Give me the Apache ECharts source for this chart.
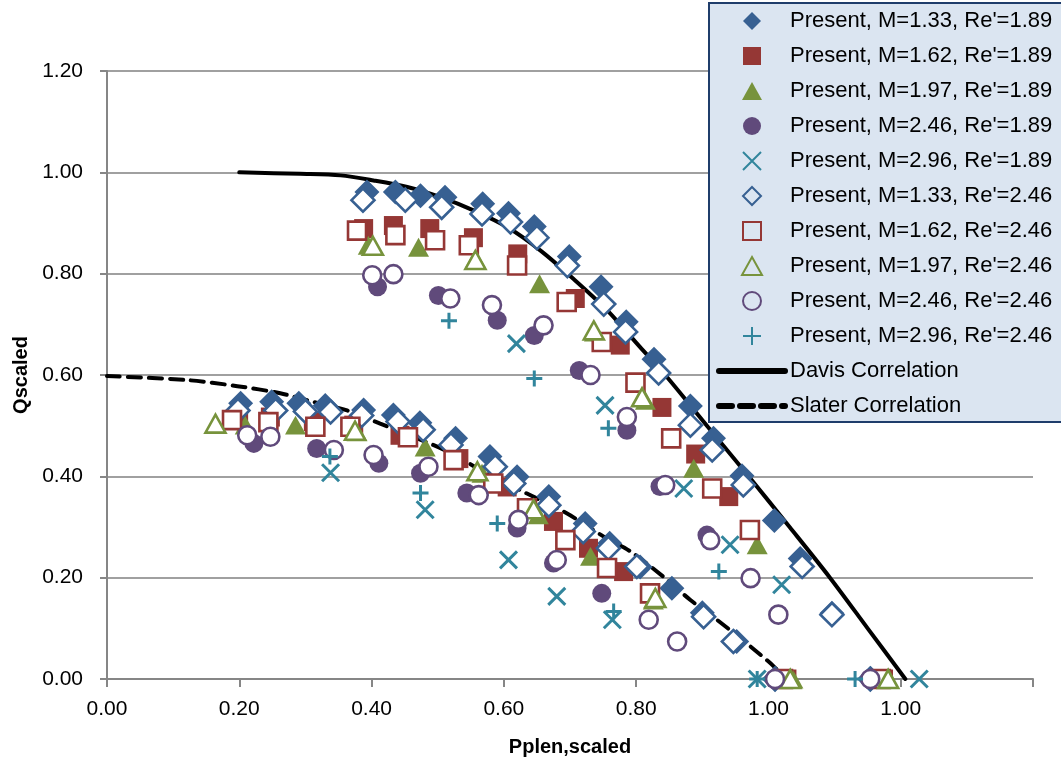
<!DOCTYPE html>
<html>
<head>
<meta charset="utf-8">
<script src="https://cdn.jsdelivr.net/npm/echarts@6/dist/echarts.min.js"></script>
<style>
html,body{margin:0;padding:0;background:#fff;}
#chart{width:1061px;height:767px;}
</style>
</head>
<body>
<div id="chart"></div>
<script>
// ---- data ----
const xTickLabels = ['0.00','0.20','0.40','0.60','0.80','1.00','1.00',''];
const yTickLabels = ['0.00','0.20','0.40','0.60','0.80','1.00','1.20'];

const seriesNames = [
  "Present, M=1.33, Re'=1.89","Present, M=1.62, Re'=1.89","Present, M=1.97, Re'=1.89",
  "Present, M=2.46, Re'=1.89","Present, M=2.96, Re'=1.89","Present, M=1.33, Re'=2.46",
  "Present, M=1.62, Re'=2.46","Present, M=1.97, Re'=2.46","Present, M=2.46, Re'=2.46",
  "Present, M=2.96, Re'=2.46","Davis Correlation","Slater Correlation"
];

const m133_re189 = [
  [0.393,0.961],[0.436,0.961],[0.474,0.954],[0.511,0.951],[0.568,0.938],[0.607,0.919],
  [0.646,0.893],[0.699,0.834],[0.747,0.774],[0.785,0.705],[0.827,0.631],[0.882,0.539],
  [0.917,0.475],[0.960,0.401],[1.009,0.313],[1.048,0.238],[1.096,0.130],[1.154,0.000],
  [0.202,0.544],[0.249,0.547],[0.290,0.544],[0.330,0.540],[0.388,0.531],[0.433,0.521],
  [0.473,0.506],[0.527,0.475],[0.579,0.439],[0.620,0.399],[0.668,0.360],[0.723,0.307],
  [0.760,0.268],[0.806,0.221],[0.854,0.179],[0.900,0.131],[0.952,0.074],[1.010,0.000]
];
const m162_re189 = [
  [0.388,0.889],[0.433,0.895],[0.488,0.889],[0.554,0.871],[0.621,0.839],[0.708,0.751],
  [0.776,0.659],[0.839,0.536],[0.890,0.444],[0.940,0.360],[1.174,0.000],
  [0.199,0.514],[0.247,0.517],[0.312,0.508],[0.373,0.501],[0.443,0.481],[0.532,0.435],
  [0.605,0.379],[0.675,0.311],[0.728,0.258],[0.781,0.212],[1.028,0.000]
];
const m197_re189 = [
  [0.395,0.856],[0.471,0.852],[0.557,0.830],[0.654,0.780],[0.737,0.685],[0.814,0.550],
  [0.887,0.416],[0.983,0.265],[1.181,0.000],
  [0.209,0.501],[0.285,0.501],[0.378,0.488],[0.481,0.458],[0.567,0.406],[0.652,0.324],
  [0.731,0.242],[0.826,0.156],[1.037,0.000]
];
const m246_re189 = [
  [0.409,0.774],[0.501,0.757],[0.590,0.708],[0.646,0.678],[0.714,0.609],[0.786,0.491],
  [0.836,0.380],[0.907,0.284],[1.154,0.000],
  [0.222,0.465],[0.317,0.455],[0.411,0.426],[0.474,0.406],[0.544,0.367],[0.620,0.298],
  [0.675,0.229],[0.748,0.169],[1.010,0.000]
];
const m296_re189 = [
  [0.619,0.662],[0.753,0.540],[0.872,0.376],[0.942,0.265],[1.020,0.186],[1.228,0.000],
  [0.338,0.407],[0.481,0.334],[0.607,0.235],[0.680,0.163],[0.764,0.117],[0.983,0.000]
];
const m133_re246 = [
  [0.387,0.945],[0.451,0.945],[0.506,0.931],[0.567,0.918],[0.610,0.902],[0.650,0.871],
  [0.696,0.816],[0.751,0.740],[0.784,0.685],[0.834,0.604],[0.882,0.501],[0.915,0.452],
  [0.962,0.383],[1.051,0.222],[1.096,0.127],[1.154,0.000],
  [0.198,0.530],[0.255,0.530],[0.300,0.528],[0.338,0.527],[0.385,0.520],[0.440,0.508],
  [0.478,0.492],[0.520,0.462],[0.587,0.419],[0.615,0.386],[0.668,0.343],[0.720,0.291],
  [0.758,0.258],[0.801,0.222],[0.902,0.123],[0.947,0.074],[1.010,0.000]
];
const m162_re246 = [
  [0.378,0.885],[0.436,0.876],[0.496,0.866],[0.547,0.856],[0.620,0.816],[0.695,0.744],
  [0.748,0.665],[0.799,0.585],[0.853,0.475],[0.915,0.376],[0.972,0.294],[1.170,0.000],
  [0.189,0.511],[0.244,0.507],[0.315,0.498],[0.368,0.498],[0.455,0.477],[0.524,0.432],
  [0.584,0.386],[0.635,0.337],[0.693,0.274],[0.756,0.219],[0.821,0.169],[1.022,0.000]
];
const m197_re246 = [
  [0.402,0.855],[0.557,0.827],[0.736,0.688],[0.809,0.556],[1.181,0.000],
  [0.164,0.504],[0.375,0.490],[0.560,0.410],[0.645,0.335],[0.829,0.160],[1.033,0.000]
];
const m246_re246 = [
  [0.401,0.797],[0.433,0.799],[0.519,0.751],[0.582,0.738],[0.660,0.698],[0.731,0.600],
  [0.786,0.517],[0.844,0.383],[0.912,0.274],[0.973,0.199],[1.015,0.127],[1.154,0.000],
  [0.212,0.481],[0.247,0.478],[0.343,0.452],[0.403,0.442],[0.486,0.419],[0.562,0.363],
  [0.622,0.314],[0.680,0.235],[0.819,0.117],[0.862,0.074],[1.010,0.000]
];
const m296_re246 = [
  [0.517,0.707],[0.646,0.593],[0.758,0.495],[0.925,0.212],[1.131,0.000],
  [0.337,0.439],[0.474,0.367],[0.590,0.307],[0.766,0.133],[0.983,0.000]
];

const davisX = [0.200,0.292,0.353,0.403,0.454,0.504,0.554,0.605,0.655,0.705,0.756,0.806,0.844,0.907,0.970,1.032,1.093,1.150,1.207];
const davisY = [1.000,0.997,0.994,0.984,0.971,0.951,0.925,0.892,0.846,0.790,0.728,0.655,0.600,0.500,0.400,0.300,0.200,0.100,0.000];
const slaterX = [0.000,0.121,0.197,0.262,0.312,0.363,0.413,0.463,0.510,0.569,0.635,0.695,0.751,0.791,0.841,0.882,0.922,0.973,1.008,1.025];
const slaterY = [0.598,0.590,0.578,0.564,0.547,0.530,0.504,0.478,0.452,0.410,0.366,0.327,0.281,0.252,0.202,0.156,0.117,0.064,0.025,0.000];

// ---- styling ----
const FONT = "'Liberation Sans', Arial, sans-serif";
const C_BLUE = '#376092', C_RED = '#953735', C_GREEN = '#77933c', C_PURPLE = '#604a7b', C_TEAL = '#31859c';
const P_DIAMOND = 'path://M5,0L10,5L5,10L0,5Z';
const P_SQUARE = 'path://M0,0L10,0L10,10L0,10Z';
const P_TRIANGLE = 'path://M5,0L10,9L0,9Z';
const P_X = 'path://M0,0L10,10M10,0L0,10';
const P_PLUS = 'path://M5,0L5,10M0,5L10,5';

const markerDefs = [
  {data: m133_re189, symbol: P_DIAMOND, size: 25, fill: C_BLUE, stroke: C_BLUE, bw: 0},
  {data: m162_re189, symbol: P_SQUARE, size: 19, fill: C_RED, stroke: C_RED, bw: 0},
  {data: m197_re189, symbol: P_TRIANGLE, size: 21, fill: C_GREEN, stroke: C_GREEN, bw: 0},
  {data: m246_re189, symbol: 'circle', size: 19, fill: C_PURPLE, stroke: C_PURPLE, bw: 0},
  {data: m296_re189, symbol: P_X, size: 17, fill: C_TEAL, stroke: C_TEAL, bw: 3},
  {data: m133_re246, symbol: P_DIAMOND, size: 23, fill: '#ffffff', stroke: C_BLUE, bw: 2.6, open: true},
  {data: m162_re246, symbol: P_SQUARE, size: 18, fill: '#ffffff', stroke: C_RED, bw: 2.6, open: true},
  {data: m197_re246, symbol: P_TRIANGLE, size: 20, fill: '#ffffff', stroke: C_GREEN, bw: 2.6, open: true},
  {data: m246_re246, symbol: 'circle', size: 18, fill: '#ffffff', stroke: C_PURPLE, bw: 2.6, open: true},
  {data: m296_re246, symbol: P_PLUS, size: 16, fill: C_TEAL, stroke: C_TEAL, bw: 3}
];

const series = markerDefs.map((d, i) => ({
  name: seriesNames[i],
  type: 'scatter',
  z: 3,
  data: d.data,
  symbol: d.symbol,
  symbolSize: d.size,
  symbolKeepAspect: true,
  itemStyle: {color: d.fill, borderColor: d.stroke, borderWidth: d.bw, opacity: 1},
  emphasis: {disabled: true}
}));

series.push({
  name: seriesNames[10], type: 'line', z: 2, showSymbol: false, symbol: 'none', smooth: 0.3,
  data: davisX.map((x, i) => [x, davisY[i]]),
  itemStyle: {color: '#000'},
  lineStyle: {color: '#000', width: 4, cap: 'round'}, emphasis: {disabled: true}
});
series.push({
  name: seriesNames[11], type: 'line', z: 2, showSymbol: false, symbol: 'none', smooth: 0.3,
  data: slaterX.map((x, i) => [x, slaterY[i]]),
  itemStyle: {color: '#000'},
  lineStyle: {color: '#000', width: 4, type: [13, 8], cap: 'round'}, emphasis: {disabled: true}
});

const legendData = seriesNames.map((n, i) => {
  if (i >= 10) {
    return {name: n, itemStyle: {color: 'rgba(0,0,0,0)', borderColor: 'rgba(0,0,0,0)', borderWidth: 0},
            lineStyle: {width: 6, cap: 'round'}};
  }
  const item = {name: n};
  if (markerDefs[i].open) item.itemStyle = {color: 'rgba(0,0,0,0)'};
  return item;
});

const chart = echarts.init(document.getElementById('chart'), null, {renderer: 'canvas'});
chart.setOption({
  animation: false,
  backgroundColor: '#ffffff',
  textStyle: {fontFamily: FONT},
  grid: {left: 107, right: 28, top: 71, bottom: 88},
  graphic: [{
    type: 'rect', z: 5, silent: true,
    shape: {x: 709, y: 3, width: 420, height: 419},
    style: {fill: '#dbe5f1', stroke: '#1f3d6b', lineWidth: 2}
  }],
  xAxis: {
    type: 'value', min: 0, max: 1.4, interval: 0.2,
    name: 'Pplen,scaled', nameLocation: 'middle', nameGap: 58,
    nameTextStyle: {fontFamily: FONT, fontSize: 20, fontWeight: 'bold', color: '#000'},
    axisLine: {show: true, onZero: false, lineStyle: {color: '#868686', width: 2}},
    axisTick: {show: true, length: 8, lineStyle: {color: '#868686', width: 2}},
    splitLine: {show: false},
    axisLabel: {
      fontFamily: FONT, fontSize: 21, color: '#000', margin: 20,
      formatter: v => xTickLabels[Math.round(v / 0.2)] || ''
    }
  },
  yAxis: {
    type: 'value', min: 0, max: 1.2, interval: 0.2,
    name: 'Qscaled', nameLocation: 'middle', nameGap: 76, nameRotate: 90,
    nameTextStyle: {fontFamily: FONT, fontSize: 20, fontWeight: 'bold', color: '#000'},
    axisLine: {show: true, lineStyle: {color: '#868686', width: 2}},
    axisTick: {show: true, length: 7, lineStyle: {color: '#868686', width: 2}},
    splitLine: {show: true, lineStyle: {color: '#a0a0a0', width: 2}},
    axisLabel: {
      fontFamily: FONT, fontSize: 21, color: '#000', margin: 24,
      formatter: v => yTickLabels[Math.round(v / 0.2)] || ''
    }
  },
  legend: {
    orient: 'vertical', left: 709, top: 3, z: 10,
    padding: [7, 10, 4, 7],
    itemWidth: 66, itemHeight: 18, itemGap: 13,
    symbolKeepAspect: true,
    textStyle: {fontFamily: FONT, fontSize: 22, lineHeight: 22, color: '#000'},
    lineStyle: {width: 'inherit'},
    selectedMode: false,
    data: legendData
  },
  series: series
});
</script>
</body>
</html>
